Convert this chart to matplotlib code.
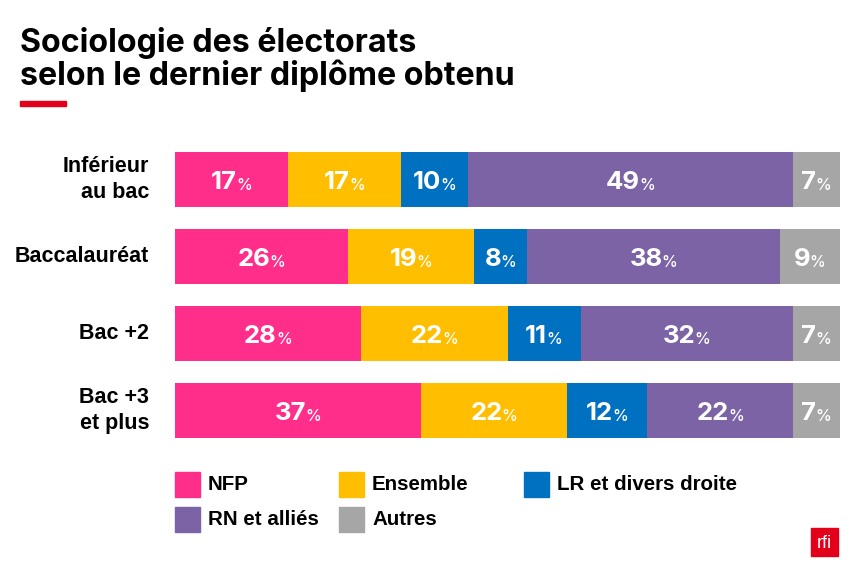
import matplotlib
matplotlib.use("Agg")
import matplotlib.pyplot as plt
from matplotlib.patches import Rectangle
import numpy as np

categories = ["Inférieur\nau bac", "Baccalauréat", "Bac +2", "Bac +3\net plus"]
parties = ["NFP", "Ensemble", "LR et divers droite", "RN et alliés", "Autres"]
colors = ["#FF2E8B", "#FFBE00", "#0070C0", "#7C63A6", "#A6A6A6"]
values = [
    [17, 26, 28, 37],   # NFP
    [17, 19, 22, 22],   # Ensemble
    [10, 8, 11, 12],    # LR et divers droite
    [49, 38, 32, 22],   # RN et alliés
    [7, 9, 7, 7],       # Autres
]

W, H = 850, 566
HEAD = ["Inter", "Liberation Sans", "DejaVu Sans"]
BOLD = ["Liberation Sans", "DejaVu Sans"]
NARROW = ["Liberation Sans Narrow", "Liberation Sans", "DejaVu Sans"]

fig = plt.figure(figsize=(W / 100, H / 100), dpi=100)
fig.patch.set_facecolor("white")

def fx(px):
    return px / W

def fy(py):
    return 1 - py / H

# title
fig.text(fx(20), fy(52), "Sociologie des électorats", fontsize=23.2, fontweight="bold",
         family=HEAD, va="baseline")
fig.text(fx(20), fy(85), "selon le dernier diplôme obtenu", fontsize=23.2, fontweight="bold",
         family=HEAD, va="baseline")
fig.patches.append(Rectangle((fx(20), fy(106)), fx(46), 5 / H, transform=fig.transFigure,
                             color="#E3001B"))

# bars
ax = fig.add_axes([fx(175), fy(438), fx(840) - fx(175), (438 - 152) / H])
h = 55 / 77
y = np.arange(len(categories))
left = np.zeros(len(categories))
for name, vals, c in zip(parties, values, colors):
    ax.barh(y, vals, left=left, height=h, color=c, linewidth=0)
    left += np.array(vals)
ax.set_xlim(0, 100)
ax.set_ylim(3 + h / 2, -h / 2)
ax.axis("off")

fig.canvas.draw()
r = fig.canvas.get_renderer()
px_per_unit = ax.get_window_extent(r).width / 100
left = np.zeros(len(categories))
for vals in values:
    for i, v in enumerate(vals):
        cx = left[i] + v / 2
        t1 = ax.text(cx, i + 0.04, str(v), fontsize=18.5, fontweight="bold", family=HEAD,
                     color="white", ha="right", va="center")
        t2 = ax.text(cx, i + 0.08, "%", fontsize=11.5, fontweight="medium", family=HEAD,
                     color="white", ha="left", va="center")
        w1 = t1.get_window_extent(r).width
        w2 = t2.get_window_extent(r).width
        # centre the number+% pair on the segment
        off = (w1 - (w1 + w2) / 2) / px_per_unit
        t1.set_x(cx + off)
        t2.set_x(cx + off - 0.1)
    left += np.array(vals)

# category labels
for i, cat in enumerate(categories):
    ax.text(-26 / px_per_unit, i, cat, fontsize=15.5, fontweight="bold", family=NARROW,
            ha="right", va="center", linespacing=1.3)

# legend
leg_pos = [(175, 472), (339, 472), (524, 472), (175, 507), (339, 507)]
for (lx, ly), name, c in zip(leg_pos, parties, colors):
    fig.patches.append(Rectangle((fx(lx), fy(ly + 25)), fx(25), 25 / H,
                                 transform=fig.transFigure, color=c))
    fig.text(fx(lx + 33), fy(ly + 12.5), name, fontsize=14.8, family=NARROW,
             va="center", ha="left", fontweight="bold")

# rfi logo
fig.patches.append(Rectangle((fx(811), fy(556)), fx(27), 28 / H,
                             transform=fig.transFigure, color="#E3001B"))
fig.text(fx(824.5), fy(543), "rfi", fontsize=13, color="white", family=BOLD,
         ha="center", va="center")

fig.savefig("out.png", dpi=100, facecolor="white")
